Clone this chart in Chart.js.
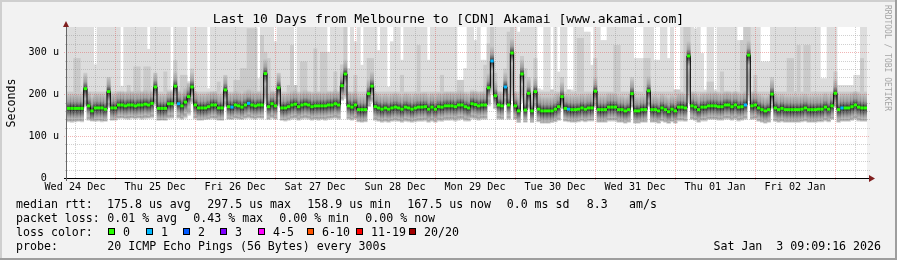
<!DOCTYPE html>
<html>
<head>
<meta charset="utf-8">
<script src="https://cdn.jsdelivr.net/npm/chart.js@4.4.1/dist/chart.umd.min.js"></script>
<style>
  html, body { margin: 0; padding: 0; background: #f2f2f2; }
  canvas { display: block; }
</style>
</head>
<body>
<canvas id="chart" width="897" height="260"></canvas>
<script>
// ── DATA (one value per hour, 240 hours) ─────────────────────
const MEDIAN = [
  166,166,166,166,166,213,172,160,167,167, 167,164,206,167,167,174,174,172,174,174,
  172,174,174,176,174,178,217,166,166,166, 177,177,219,177,172,181,194,217,174,167,
  167,167,170,174,174,167,167,210,170,169, 174,172,169,174,178,174,172,174,174,249,
  170,177,172,215,167,167,170,174,176,170, 174,176,174,170,172,172,172,172,174,174,
  177,174,220,248,172,169,174,163,163,163, 201,219,170,167,164,167,164,167,169,167,
  164,169,167,164,167,169,169,170,164,169, 164,170,169,172,172,172,170,174,174,170,
  167,177,175,172,174,174,215,279,196,174, 172,217,174,298,172,160,248,162,202,160,
  206,164,160,160,160,160,164,170,194,166, 164,163,163,164,167,164,167,167,207,163,
  163,163,169,169,169,163,163,160,163,201, 160,160,163,163,208,163,163,160,167,163,
  158,164,160,169,169,167,291,172,169,163, 169,169,172,172,172,170,170,174,174,170,
  174,169,170,174,293,172,174,167,163,160, 163,200,167,163,166,163,163,163,163,163,
  164,167,163,163,163,164,164,169,164,172, 202,163,167,167,167,170,174,169,167,167
];

// hours where one of the 20 pings was lost
const LOSS1_HOURS = [33, 49, 54, 127, 131, 150, 203, 232];

// fastest ping (bottom of the smoke)
const PING_LO = [
  134,133,134,135,134,170,138,136,135,136, 134,135,168,137,138,141,142,141,140,142,
  141,142,140,141,142,143,172,137,138,137, 141,142,172,142,140,143,150,178,141,138,
  138,139,140,141,140,138,137,170,140,139, 141,140,139,141,142,141,140,142,141,180,
  139,142,140,172,137,136,138,140,141,138, 140,141,140,138,139,138,139,138,140,141,
  142,140,185,190,140,138,140,134,133,134, 170,180,137,135,133,134,133,135,136,135,
  133,135,134,133,134,135,135,136,133,135, 133,136,135,137,137,138,136,138,139,136,
  136,141,140,138,140,140,172,200,165,140, 139,175,140,185,139,132,180,133,165,132,
  168,134,131,131,131,132,134,137,165,135, 134,133,133,134,136,134,136,136,170,133,
  133,133,136,136,136,133,133,131,133,168, 131,131,133,133,170,133,133,131,135,133,
  130,134,131,136,136,135,180,139,137,133, 136,136,139,139,139,138,138,140,140,138,
  140,136,138,140,185,139,140,135,133,131, 133,165,135,133,134,133,133,133,133,133,
  134,135,133,133,133,134,134,136,134,139, 168,133,135,135,135,137,140,136,135,135
];

// slowest ping (top of the light smoke, 400 = above the graph)
const PING_HI = [
  400,400,400,400,400,400,400,400,270,400, 400,400,400,400,400,400,219,400,400,400,
  400,400,400,400,307,400,400,400,400,400, 400,210,400,400,400,400,230,400,400,400,
  400,400,213,400,400,400,400,400,400,400, 400,400,400,400,400,400,400,237,400,400,
  400,400,325,400,400,400,400,400,221,400, 400,400,400,400,400,400,400,400,300,400,
  400,400,400,400,261,400,325,400,269,400, 400,400,400,304,400,400,217,325,400,400,
  281,400,400,400,400,400,400,400,281,400, 400,400,400,400,400,400,400,233,233,261,
  400,400,328,400,281,281,400,400,400,400, 400,400,400,400,400,348,400,400,400,400,
  400,213,210,400,400,210,400,253,400,400, 210,210,400,400,400,348,348,269,400,400,
  328,328,400,400,400,400,400,400,400,400, 285,285,285,400,400,400,281,281,400,400,
  285,400,210,210,400,400,400,400,356,400, 297,210,400,400,210,400,400,400,400,400,
  400,328,328,400,400,400,400,400,277,277, 277,400,400,400,400,400,400,400,400,400,
  400,400,400,400,400,400,237,237,400,400, 400,221,221,221,221,221,245,245,400,400
];

// second slowest ping (top of the medium smoke)
const PING_UP = [
  205,205,285,285,205,250,205,205,205,205, 205,205,240,205,205,205,205,205,221,205,
  265,265,205,265,265,205,250,205,205,253, 205,205,280,205,245,245,225,260,205,205,
  205,205,205,205,205,229,205,245,205,205, 233,233,261,261,356,356,356,205,340,300,
  285,205,205,250,205,205,221,316,221,205, 277,277,205,205,308,205,300,300,205,205,
  253,205,270,400,205,205,245,205,205,205, 285,285,205,205,205,205,205,205,205,205,
  245,205,205,205,205,316,205,205,205,205, 205,205,245,205,205,205,205,233,233,205,
  205,205,205,205,205,269,320,400,250,205, 205,260,348,400,205,205,290,261,240,205,
  285,205,205,205,205,210,205,205,240,205, 210,205,205,333,333,205,205,205,285,205,
  205,205,205,205,316,316,205,205,205,240, 205,205,205,285,285,205,205,205,205,205,
  205,205,210,210,205,400,400,205,205,205, 205,205,229,229,205,205,253,205,205,205,
  205,205,328,400,400,205,245,205,205,205, 205,240,205,205,205,205,285,285,205,316,
  205,316,316,205,205,205,205,205,205,205, 253,205,205,205,205,205,205,205,285,205
];

const DAY_LABELS = ['Wed 24 Dec', 'Thu 25 Dec', 'Fri 26 Dec', 'Sat 27 Dec', 'Sun 28 Dec',
                    'Mon 29 Dec', 'Tue 30 Dec', 'Wed 31 Dec', 'Thu 01 Jan', 'Fri 02 Jan'];
const DAY_NOON   = [2.4, 26.4, 50.4, 74.4, 98.4, 122.4, 146.4, 170.4, 194.4, 218.4];
const Y_TICKS    = [0, 100, 200, 300];
const Y_LABELS   = ['0  ', '100 u', '200 u', '300 u'];

const LOSS_COLORS = ['#26ff00', '#00b8ff', '#0059ff', '#7e00ff', '#ff00ff', '#ff5500', '#ff0000', '#a10000'];
const LOSS_LABELS = ['0', '1', '2', '3', '4-5', '6-10', '11-19', '20/20'];

const TITLE = 'Last 10 Days from Melbourne to [CDN] Akamai [www.akamai.com]';

// ── STYLE ────────────────────────────────────────────────────
const MONO = '"DejaVu Sans Mono", monospace';
const GRID_COL  = 'rgba(143,143,143,0.42)';
const MGRID_COL = 'rgba(222,79,79,0.42)';
const ARROW_COL = '#801f1f';

// darkness of the smoke around the median (offset in units, colour)
const CORE_STOPS = [
  [ 36, 'rgba(0,0,0,0)'],
  [ 28, 'rgba(0,0,0,0.09)'],
  [ 16, 'rgba(0,0,0,0.20)'],
  [  8, 'rgba(0,0,0,0.45)'],
  [  2, 'rgba(0,0,0,0.72)'],
  [  0, 'rgba(0,0,0,0.78)'],
  [ -3, 'rgba(0,0,0,0.70)'],
  [-10, 'rgba(0,0,0,0.45)'],
  [-18, 'rgba(0,0,0,0.22)'],
  [-25, 'rgba(0,0,0,0.08)']
];

const xs = MEDIAN.map((_, i) => i + 0.5);

function coreColor(c) {
  const chart = c.chart;
  const y = chart.scales.y;
  if (c.type !== 'data' || !y || !chart.chartArea) return 'rgba(0,0,0,0.4)';
  const i = c.dataIndex;
  const top = y.getPixelForValue(PING_HI[i]);
  const bot = y.getPixelForValue(PING_LO[i]);
  const span = bot - top;
  const g = chart.ctx.createLinearGradient(0, top, 0, bot);
  g.addColorStop(0, 'rgba(0,0,0,0)');
  CORE_STOPS.forEach(([dv, col]) => {
    let off = (y.getPixelForValue(MEDIAN[i] + dv) - top) / span;
    g.addColorStop(Math.min(1, Math.max(0, off)), col);
  });
  g.addColorStop(1, 'rgba(232,232,232,0.7)');
  return g;
}

// ── GRID / FRAME / TEXT ──────────────────────────────────────
function drawGrid(chart) {
  const { ctx, chartArea: a, scales: { x, y } } = chart;
  ctx.save();
  ctx.lineWidth = 1;
  ctx.setLineDash([1, 1]);
  ctx.strokeStyle = GRID_COL;
  ctx.beginPath();
  for (let h = 2.4; h < 240; h += 6) {
    if (Math.abs(((h - 14.4) % 24 + 24) % 24) < 0.01) continue;
    const px = Math.round(x.getPixelForValue(h)) + 0.5;
    ctx.moveTo(px, a.top); ctx.lineTo(px, a.bottom);
  }
  for (let v = 20; v < 360; v += 20) {
    if (v % 100 === 0) continue;
    const py = Math.round(y.getPixelForValue(v)) + 0.5;
    ctx.moveTo(a.left - 2, py); ctx.lineTo(a.right + 3, py);
  }
  ctx.stroke();
  ctx.strokeStyle = MGRID_COL;
  ctx.beginPath();
  for (let h = 14.4; h < 240; h += 24) {
    const px = Math.round(x.getPixelForValue(h)) + 0.5;
    ctx.moveTo(px, a.top); ctx.lineTo(px, a.bottom + 2);
  }
  [100, 200, 300].forEach(v => {
    const py = Math.round(y.getPixelForValue(v)) + 0.5;
    ctx.moveTo(a.left - 3, py); ctx.lineTo(a.right + 3, py);
  });
  ctx.stroke();
  ctx.restore();
}

function text(ctx, s, x, y, size, align, color) {
  ctx.font = size + 'px ' + MONO;
  ctx.textAlign = align || 'left';
  ctx.textBaseline = 'alphabetic';
  ctx.fillStyle = color || '#000';
  ctx.fillText(s, x, y);
}

const framePlugin = {
  id: 'frame',
  beforeDraw(chart) {
    const { ctx, chartArea: a } = chart;
    ctx.save();
    ctx.fillStyle = '#f2f2f2'; ctx.fillRect(0, 0, 897, 260);
    ctx.fillStyle = '#cfcfcf'; ctx.fillRect(0, 0, 897, 2); ctx.fillRect(0, 0, 2, 260);
    ctx.fillStyle = '#9e9e9e'; ctx.fillRect(0, 258, 897, 2); ctx.fillRect(895, 0, 2, 260);
    ctx.fillStyle = '#ffffff'; ctx.fillRect(a.left, a.top, a.right - a.left, a.bottom - a.top);
    ctx.restore();
  },
  afterDatasetDraw(chart, args) {
    if (args.index === 2) drawGrid(chart);
  },
  afterDraw(chart) {
    const { ctx, chartArea: a } = chart;
    ctx.save();
    // axes
    ctx.fillStyle = '#000';
    ctx.fillRect(a.left - 3, a.bottom, a.right - a.left + 6, 1);
    ctx.fillStyle = '#666';
    ctx.fillRect(a.left - 1, a.top - 2, 1, a.bottom - a.top + 5);
    ctx.fillStyle = ARROW_COL;
    ctx.beginPath();
    ctx.moveTo(a.left - 4, a.top); ctx.lineTo(a.left + 2, a.top); ctx.lineTo(a.left - 1, a.top - 6);
    ctx.closePath(); ctx.fill();
    ctx.beginPath();
    ctx.moveTo(a.right + 2, a.bottom - 3); ctx.lineTo(a.right + 2, a.bottom + 4); ctx.lineTo(a.right + 8, a.bottom + 0.5);
    ctx.closePath(); ctx.fill();

    // title
    text(ctx, TITLE, 448.5, 23, 13.05, 'center');

    // unit label
    ctx.save();
    ctx.translate(15, 103); ctx.rotate(-Math.PI / 2);
    text(ctx, 'Seconds', 0, 0, 11.6, 'center');
    ctx.restore();

    // watermark
    ctx.save();
    ctx.translate(885, 5); ctx.rotate(Math.PI / 2);
    text(ctx, 'RRDTOOL / TOBI OETIKER', 0, 0, 8, 'left', '#a5a5a5');
    ctx.restore();

    // legend
    const L = 11.6;
    text(ctx, 'median rtt:', 16, 208, L);
    text(ctx, '175.8 us avg', 107, 208, L);
    text(ctx, '297.5 us max', 207.3, 208, L);
    text(ctx, '158.9 us min', 307.3, 208, L);
    text(ctx, '167.5 us now', 407.3, 208, L);
    text(ctx, '0.0 ms sd', 506.7, 208, L);
    text(ctx, '8.3', 586.7, 208, L);
    text(ctx, 'am/s', 629, 208, L);

    text(ctx, 'packet loss:', 16, 222, L);
    text(ctx, '0.01 % avg', 107.3, 222, L);
    text(ctx, '0.43 % max', 193.3, 222, L);
    text(ctx, '0.00 % min', 279.3, 222, L);
    text(ctx, '0.00 % now', 365.3, 222, L);

    text(ctx, 'loss color:', 16, 236, L);
    const boxX = [108, 146, 183, 220, 258, 307, 356, 409];
    LOSS_LABELS.forEach((lab, k) => {
      ctx.fillStyle = LOSS_COLORS[k];
      ctx.fillRect(boxX[k], 228, 7, 7);
      ctx.strokeStyle = '#000'; ctx.lineWidth = 1;
      ctx.strokeRect(boxX[k] + 0.5, 228.5, 6, 6);
      text(ctx, lab, boxX[k] + 15, 236, L);
    });

    text(ctx, 'probe:', 16, 250, L);
    text(ctx, '20 ICMP Echo Pings (56 Bytes) every 300s', 107.3, 250, L);
    text(ctx, 'Sat Jan  3 09:09:16 2026', 881, 250, L, 'right');
    ctx.restore();
  }
};

// ── CHART ────────────────────────────────────────────────────
const barCommon = { type: 'bar', grouped: false, barPercentage: 1, categoryPercentage: 1, borderWidth: 0 };

new Chart(document.getElementById('chart'), {
  type: 'bar',
  data: {
    datasets: [
      { ...barCommon, label: 'light smoke', order: 5, backgroundColor: '#dddddd',
        data: xs.map((x, i) => ({ x, y: [PING_LO[i], PING_HI[i]] })) },
      { ...barCommon, label: 'medium smoke', order: 4, backgroundColor: '#cacaca',
        data: xs.map((x, i) => ({ x, y: [PING_LO[i], PING_UP[i]] })) },
      { ...barCommon, label: 'core smoke', order: 3, backgroundColor: coreColor,
        data: xs.map((x, i) => ({ x, y: [PING_LO[i], PING_HI[i]] })) },
      { type: 'line', label: 'median', order: 2, borderColor: '#000', borderWidth: 1,
        stepped: 'middle', pointRadius: 0, data: xs.map((x, i) => ({ x, y: MEDIAN[i] })) },
      { type: 'line', label: 'median loss', order: 1, showLine: false,
        pointStyle: 'line', pointRadius: 1.67, pointHoverRadius: 1.67, pointBorderWidth: 3,
        pointBorderColor: MEDIAN.map((_, i) => LOSS_COLORS[LOSS1_HOURS.includes(i) ? 1 : 0]),
        data: xs.map((x, i) => ({ x, y: MEDIAN[i] })) }
    ]
  },
  options: {
    responsive: false,
    devicePixelRatio: 1,
    animation: false,
    events: [],
    layout: { padding: { top: 27, right: 30, left: 0, bottom: 0 } },
    plugins: { legend: { display: false }, tooltip: { enabled: false } },
    scales: {
      x: {
        type: 'linear', min: 0, max: 240, offset: false,
        afterBuildTicks: s => { s.ticks = DAY_NOON.map(v => ({ value: v })); },
        afterFit: s => { s.height = 82; },
        ticks: { autoSkip: false, maxRotation: 0, padding: 3, color: '#000',
                 font: { family: MONO, size: 10.15 },
                 callback: (v, i) => DAY_LABELS[i] },
        grid: { display: false, drawTicks: false },
        border: { display: false }
      },
      y: {
        min: 0, max: 360,
        afterBuildTicks: s => { s.ticks = Y_TICKS.map(v => ({ value: v })); },
        afterFit: s => { s.width = 67; },
        ticks: { padding: 8, color: '#000', font: { family: MONO, size: 10.15 },
                 callback: (v, i) => Y_LABELS[i] },
        grid: { display: false, drawTicks: false },
        border: { display: false }
      }
    }
  },
  plugins: [framePlugin]
});
</script>
</body>
</html>
